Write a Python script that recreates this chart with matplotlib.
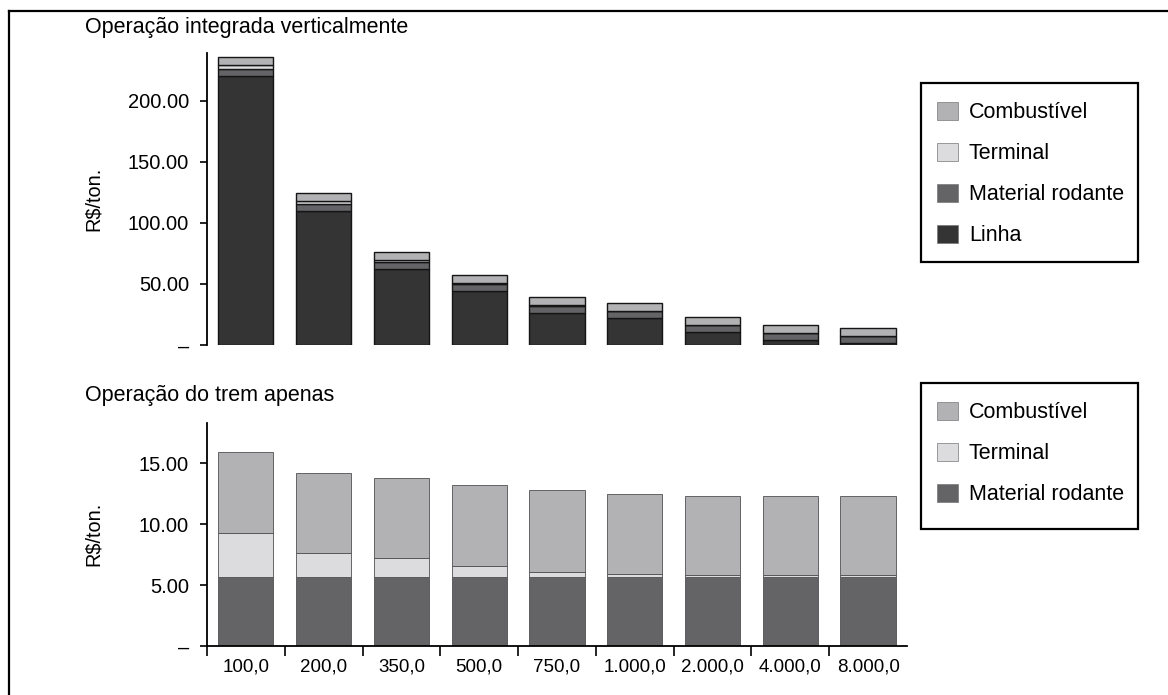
import numpy as np
import matplotlib
matplotlib.use('Agg')
from matplotlib import pyplot as plt
from matplotlib.patches import Patch, Rectangle
from matplotlib.lines import Line2D

plt.rcParams['font.family'] = ['Liberation Sans', 'DejaVu Sans']

# distancias (km) e custos em R$/ton.
categorias = ['100,0', '200,0', '350,0', '500,0', '750,0',
              '1.000,0', '2.000,0', '4.000,0', '8.000,0']
material_rodante = [5.7, 5.7, 5.7, 5.7, 5.7, 5.7, 5.7, 5.7, 5.7]
terminal = [3.6, 1.9, 1.5, 0.9, 0.4, 0.2, 0.15, 0.15, 0.15]
combustivel = [6.6, 6.6, 6.6, 6.6, 6.7, 6.6, 6.45, 6.45, 6.45]
linha = [220.0, 110.0, 62.0, 44.0, 26.5, 22.0, 10.5, 4.0, 1.5]

cores = {'Combustível': '#b2b2b4', 'Terminal': '#dcdcde',
         'Material rodante': '#646466', 'Linha': '#343434'}

W, H = 1168, 695
fig = plt.figure(figsize=(W / 100, H / 100), dpi=100)

def px(x0, y0, x1, y1):
    # caixa em pixels -> coordenadas da figura
    return [x0 / W, 1 - y1 / H, (x1 - x0) / W, (y1 - y0) / H]

x = np.arange(len(categorias))
larg = 0.71

# ---- grafico de cima: operacao integrada
ax1 = fig.add_axes(px(207, 53, 907, 345))
base = np.zeros(len(x))
for nome, vals in [('Linha', linha), ('Material rodante', material_rodante),
                   ('Terminal', terminal), ('Combustível', combustivel)]:
    ax1.bar(x, vals, larg, bottom=base, color=cores[nome],
            edgecolor='#151515', linewidth=1.0)
    base = base + np.array(vals)

ax1.set_xlim(-0.5, 8.5)
ax1.set_ylim(0, 239)
ax1.set_yticks([0, 50, 100, 150, 200])
ax1.set_yticklabels(['–', '50.00', '100.00', '150.00', '200.00'])
ax1.set_xticks([])
for s in ['top', 'right', 'bottom']:
    ax1.spines[s].set_visible(False)
ax1.spines['left'].set_linewidth(1.3)
ax1.tick_params(axis='y', direction='out', length=5, width=1.2,
                labelsize=14.5, pad=8)

# ---- grafico de baixo: so o trem
ax2 = fig.add_axes(px(207, 423, 907, 646))
base = np.zeros(len(x))
for nome, vals in [('Material rodante', material_rodante),
                   ('Terminal', terminal), ('Combustível', combustivel)]:
    ax2.bar(x, vals, larg, bottom=base, color=cores[nome],
            edgecolor='#505052', linewidth=0.6)
    base = base + np.array(vals)

ax2.set_xlim(-0.5, 8.5)
ax2.set_ylim(0, 18.3)
ax2.set_yticks([0, 5, 10, 15])
ax2.set_yticklabels(['–', '5.00', '10.00', '15.00'])
ax2.set_xticks(x)
ax2.set_xticklabels(categorias)
ax2.set_xticks(np.arange(-0.5, 8.0, 1.0), minor=True)
for s in ['top', 'right']:
    ax2.spines[s].set_visible(False)
ax2.spines['left'].set_linewidth(1.3)
ax2.spines['bottom'].set_linewidth(1.3)
ax2.tick_params(axis='y', direction='out', length=5, width=1.2,
                labelsize=14.5, pad=8)
ax2.tick_params(axis='x', which='major', length=0, labelsize=13.5, pad=9)
ax2.tick_params(axis='x', which='minor', direction='out', length=7, width=1.2)

# titulos e rotulos
fig.text(85 / W, 1 - 27 / H, 'Operação integrada verticalmente',
         fontsize=15.5, va='center', ha='left')
fig.text(85 / W, 1 - 395 / H, 'Operação do trem apenas',
         fontsize=15.5, va='center', ha='left')
fig.text(93 / W, 1 - 199 / H, 'R$/ton.', fontsize=14.3, rotation=90,
         va='center', ha='center')
fig.text(93 / W, 1 - 534 / H, 'R$/ton.', fontsize=14.3, rotation=90,
         va='center', ha='center')

# legendas: caixa desenhada a parte, entradas sem moldura
def legenda(nomes, caixa, y_primeira):
    x0, y0, x1, y1 = caixa
    fig.add_artist(Rectangle((x0 / W, 1 - y1 / H), (x1 - x0) / W,
                             (y1 - y0) / H, transform=fig.transFigure,
                             facecolor='white', edgecolor='black',
                             linewidth=1.6, zorder=4))
    alcas = [Patch(facecolor=cores[n], edgecolor='#777777', linewidth=0.5)
             for n in nomes]
    leg = fig.legend(alcas, nomes, loc='upper left',
                     bbox_to_anchor=(x0 / W, 1 - (y_primeira - 27.2) / H),
                     bbox_transform=fig.transFigure, borderaxespad=0,
                     fontsize=15.5, frameon=False, labelspacing=0.9,
                     handlelength=0.98, handleheight=0.93, handletextpad=0.5,
                     borderpad=0.74)
    leg.set_zorder(5)
    return leg

legenda(['Combustível', 'Terminal', 'Material rodante', 'Linha'],
        (921, 83, 1138, 262), 113)
legenda(['Combustível', 'Terminal', 'Material rodante'],
        (921, 383, 1138, 529), 413)

# moldura (esquerda e topo)
fig.add_artist(Line2D([9 / W, 9 / W], [0, 1 - 11 / H], color='black',
                      linewidth=1.6, transform=fig.transFigure))
fig.add_artist(Line2D([9 / W, 1], [1 - 11 / H, 1 - 11 / H], color='black',
                      linewidth=1.6, transform=fig.transFigure))

fig.savefig('out.png', dpi=100, facecolor='white')
